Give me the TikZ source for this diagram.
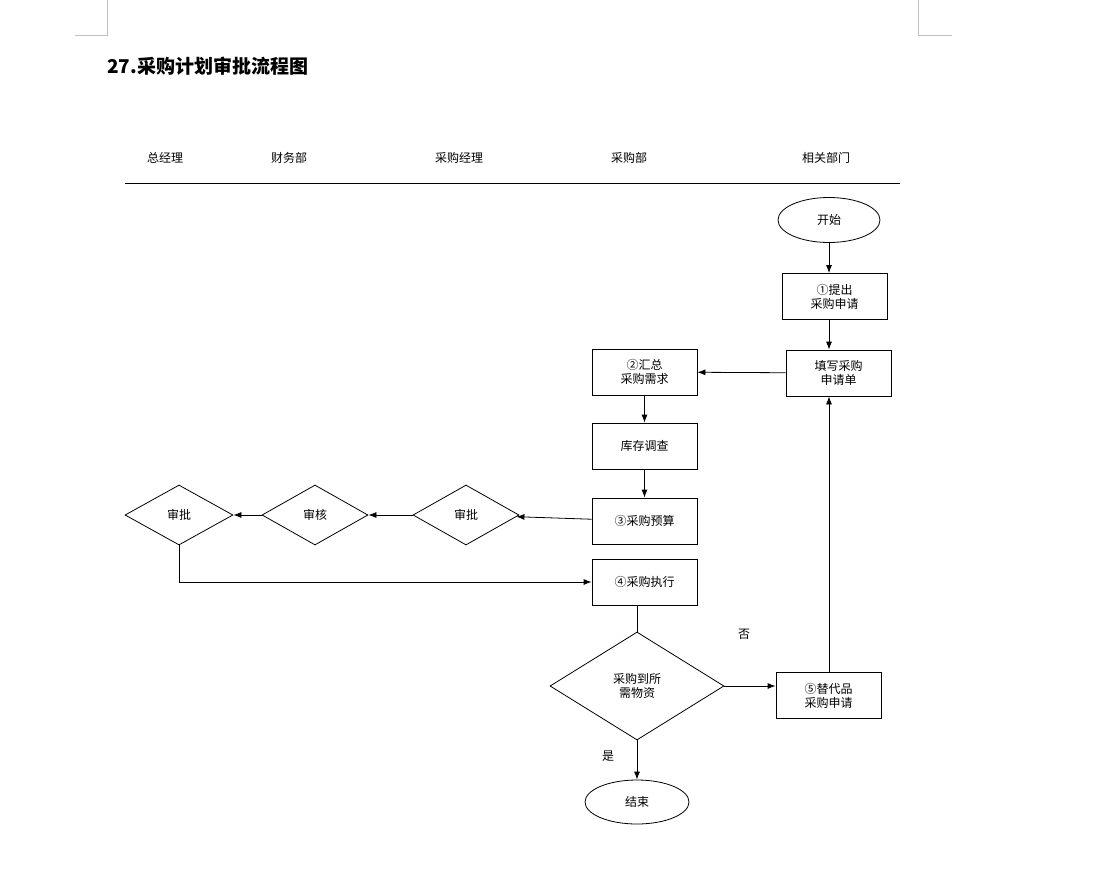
\documentclass[tikz,border=0pt]{standalone}
\usepackage{fontspec}
\setmainfont{Noto Sans CJK SC}
\usetikzlibrary{shapes.geometric,arrows.meta}
\begin{document}
\begin{tikzpicture}[x=1pt,y=-1pt,
  txt/.style={font=\fontsize{12}{14}\selectfont,align=center,inner sep=0pt},
  box/.style={txt,draw,line width=0.8pt,minimum width=105pt,minimum height=46pt},
  oval/.style={txt,draw,ellipse,line width=0.8pt,minimum width=102pt,minimum height=45pt},
  dia/.style={txt,draw,diamond,aspect=1.77,line width=0.8pt,inner sep=0pt},
  arr/.style={-{Latex[length=8pt,width=6pt]},line width=0.8pt},
  ln/.style={line width=0.8pt}]
\useasboundingbox (0,0) rectangle (1114,889);
\draw[gray!50,line width=0.6pt] (107,0)--(107,35)--(75,35) (918,0)--(918,35)--(952,35);
\node[anchor=west,font=\bfseries\fontsize{19}{22}\selectfont,inner sep=0pt] (title) at (107,66) {27.采购计划审批流程图};
\foreach \n/\x/\t in {h1/165/总经理,h2/289/财务部,h3/459/采购经理,h4/629/采购部,h5/826/相关部门}
  \node[txt] (\n) at (\x,158) {\t};
\draw[ln] (125,183)--(900,183);
\node[oval] (start) at (829,220) {开始};
\node[box] (b1) at (834.5,296.5) {①提出\\采购申请};
\node[box] (b2) at (838.5,373) {填写采购\\申请单};
\node[box] (b3) at (644.5,372) {②汇总\\采购需求};
\node[box] (b4) at (644.5,446) {库存调查};
\node[box] (b5) at (644.5,521) {③采购预算};
\node[dia,minimum width=106pt,minimum height=60pt] (d1) at (466,515) {审批};
\node[dia,minimum width=106pt,minimum height=60pt] (d2) at (315,515) {审核};
\node[dia,minimum width=108pt,minimum height=60pt] (d3) at (179,515) {审批};
\node[box] (b6) at (644.5,582) {④采购执行};
\node[dia,minimum width=174pt,minimum height=108pt] (d4) at (637,686) {采购到所\\需物资};
\node[box] (b7) at (828.5,695.5) {⑤替代品\\采购申请};
\node[oval,minimum width=104pt,minimum height=44pt] (end) at (637,802) {结束};
\node[txt] (no) at (744,634) {否};
\node[txt] (yes) at (608,756) {是};
\draw[arr] (start)--(b1.north-|start);
\draw[arr] (b1.south-|start)--(b2.north-|start);
\draw[arr] (b2)--(b3);
\draw[arr] (b3)--(b4);
\draw[arr] (b4)--(b5);
\draw[arr] (b5)--(d1);
\draw[arr] (d1)--(d2);
\draw[arr] (d2)--(d3);
\draw[arr] (d3.south)--(d3.south|-b6)--(b6);
\draw[ln] (b6.south-|d4)--(d4.north);
\draw[arr] (d4.east)--(b7.west|-d4);
\draw[arr] (b7.north-|start)--(b2.south-|start);
\draw[arr] (d4.south)--(end);
\end{tikzpicture}
\end{document}
